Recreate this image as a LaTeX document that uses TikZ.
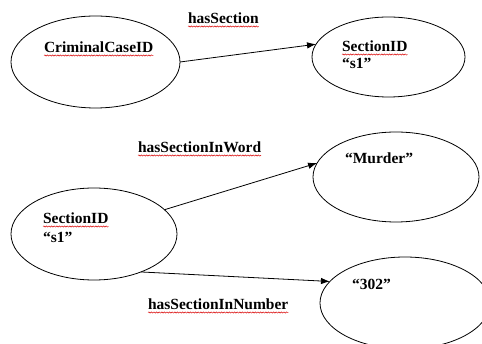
\documentclass[tikz,border=0pt]{standalone}
\usepackage{fontspec}
\setmainfont{Liberation Serif}
\usetikzlibrary{shapes.geometric,arrows.meta,decorations.pathmorphing}
\begin{document}
\begin{tikzpicture}[x=1pt,y=-1pt,
  oval/.style={draw=black,line width=0.8pt,ellipse,inner sep=0pt,outer sep=0pt},
  txt/.style={inner sep=0pt,outer sep=0pt,anchor=base west,font=\bfseries\fontsize{15.5}{18}\selectfont},
  conn/.style={draw=black,line width=0.8pt,-{Latex[length=9pt,width=6.5pt]}},
  squig/.style={draw=red!85!black,line width=0.5pt,decorate,decoration={snake,amplitude=0.6pt,segment length=2.6pt}}
]
\clip (0,0) rectangle (482,344);
\fill[white] (0,0) rectangle (482,344);
% ellipses
\node[oval,minimum width=169pt,minimum height=92pt] (cc) at (95.5,62) {};
\node[oval,minimum width=153pt,minimum height=80pt] (s1a) at (388.5,57) {};
\node[oval,minimum width=166pt,minimum height=92pt] (s1b) at (94,234) {};
\node[oval,minimum width=166pt,minimum height=90pt] (mu) at (396,177) {};
\node[oval,minimum width=170pt,minimum height=92pt] (n302) at (405,303) {};
% texts in ellipses
\node[txt] (tcc) at (44,53) {CriminalCaseID};
\node[txt] (ts1a) at (342,52) {SectionID};
\node[txt] (qs1a) at (342,69) {“s1”};
\node[txt] (ts1b) at (43,224) {SectionID};
\node[txt] (qs1b) at (43,243) {“s1”};
\node[txt] (tmu) at (345,164) {“Murder”};
\node[txt] (t302) at (352,290) {“302”};
% edge labels
\node[txt] (l1) at (188,24) {hasSection};
\node[txt] (l2) at (138,153) {hasSectionInWord};
\node[txt] (l3) at (148,310) {hasSectionInNumber};
% squiggles
\foreach \n in {tcc,ts1a,ts1b,l1,l2,l3}{
  \path[squig] ([yshift=-2.5pt]\n.base west) -- ([yshift=-2.5pt]\n.base east);
}
% connectors
\draw[conn] (cc.0) -- (s1a.170);
\draw[conn] (s1b.19) -- (mu.170.5);
\draw[conn] (s1b.-39) -- (n302.164.7);
\end{tikzpicture}
\end{document}
